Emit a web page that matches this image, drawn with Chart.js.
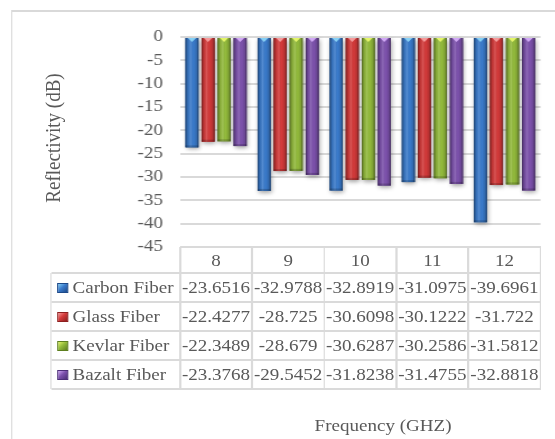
<!DOCTYPE html>
<html><head><meta charset="utf-8">
<script src="https://cdn.jsdelivr.net/npm/chart.js@4"></script>
<style>
html,body{margin:0;padding:0;background:#fff;overflow:hidden;width:555px;height:439px}
#wrap{position:absolute;left:0;top:0;width:496px;height:439px;transform:scaleX(1.12);transform-origin:0 0;font-family:"Liberation Serif","Times New Roman",serif;color:#595959;font-size:17px}
#frame{position:absolute;left:9.8px;top:10px;width:560px;height:470px;border-style:solid;border-color:#d9d9d9;border-width:2px 1.8px}
canvas{position:absolute;left:0;top:0}
.t{position:absolute;white-space:nowrap;line-height:1}
.hl{position:absolute;height:2px;background:#dadada}
.vl{position:absolute;width:1.8px;background:#dadada}
.cell{position:absolute;text-align:center;white-space:nowrap;line-height:1}
.sq{position:absolute;width:9.8px;height:10px;box-sizing:border-box}
</style></head>
<body>
<div id="wrap">
  <div id="frame"></div>
  <canvas id="c" width="496" height="439"></canvas>
  <div id="table"></div>
  <div class="t" id="ytitle" style="left:47.3px;top:138px;font-size:19px;transform:translate(-50%,-50%) rotate(-90deg)">Reflectivity (dB)</div>
  <div class="t" id="xtitle" style="left:342px;top:425px;transform:translate(-50%,-50%)">Frequency (GHZ)</div>
</div>
<script>
const categories = ['8', '9', '10', '11', '12'];
const seriesNames = ['Carbon Fiber', 'Glass Fiber', 'Kevlar Fiber', 'Bazalt Fiber'];
const carbon = [-23.6516, -32.9788, -32.8919, -31.0975, -39.6961];
const glass  = [-22.4277, -28.725, -30.6098, -30.1222, -31.722];
const kevlar = [-22.3489, -28.679, -30.6287, -30.2586, -31.5812];
const bazalt = [-23.3768, -29.5452, -31.8238, -31.4755, -32.8818];
const yTicks = [0, -5, -10, -15, -20, -25, -30, -35, -40, -45];

const baseColors = ['#3a7bcc', '#d43a3a', '#93bb3c', '#7d52ad'];
const darkColors = ['#1d4a8a', '#8e1f1f', '#5d7f1f', '#4c2f78'];
const toothColors = ['#86d0f5', '#f59a9a', '#e4f56a', '#d0a8f5'];
const seriesValues = [carbon, glass, kevlar, bazalt];

const cyl = {
  id: 'cyl',
  beforeDatasetsDraw(chart) {
    const ctx = chart.ctx;
    ctx.save();
    ctx.shadowColor = 'rgba(0,0,0,0.35)';
    ctx.shadowBlur = 4;
    ctx.shadowOffsetX = 1;
    ctx.shadowOffsetY = 2;
    chart.data.datasets.forEach((ds, di) => {
      chart.getDatasetMeta(di).data.forEach(el => {
        const w = el.width, l = el.x - w / 2, t = Math.min(el.y, el.base), h = Math.abs(el.base - el.y);
        ctx.fillStyle = darkColors[di];
        ctx.fillRect(l, t, w, h);
      });
    });
    ctx.restore();
  },
  afterDatasetsDraw(chart) {
    const ctx = chart.ctx;
    ctx.save();
    chart.data.datasets.forEach((ds, di) => {
      chart.getDatasetMeta(di).data.forEach(el => {
        const w = el.width, l = el.x - w / 2, t = Math.min(el.y, el.base), h = Math.abs(el.base - el.y);
        const g = ctx.createLinearGradient(l, 0, l + w, 0);
        g.addColorStop(0, 'rgba(0,0,0,0.45)');
        g.addColorStop(0.18, 'rgba(0,0,0,0.1)');
        g.addColorStop(0.4, 'rgba(255,255,255,0.14)');
        g.addColorStop(0.62, 'rgba(0,0,0,0)');
        g.addColorStop(0.86, 'rgba(0,0,0,0.15)');
        g.addColorStop(1, 'rgba(0,0,0,0.5)');
        ctx.fillStyle = g;
        ctx.fillRect(l, t, w, h);
        ctx.fillStyle = 'rgba(0,0,0,0.18)';
        ctx.fillRect(l, t + h - 2, w, 2);
        ctx.fillStyle = toothColors[di];
        ctx.beginPath();
        ctx.moveTo(el.x - w * 0.32, t);
        ctx.lineTo(el.x + w * 0.32, t);
        ctx.lineTo(el.x, t + 4);
        ctx.closePath();
        ctx.fill();
      });
    });
    ctx.restore();
  }
};

const chart = new Chart(document.getElementById('c'), {
  type: 'bar',
  data: {
    labels: categories,
    datasets: seriesNames.map((n, i) => ({
      label: n,
      data: seriesValues[i],
      backgroundColor: baseColors[i],
      borderWidth: 0,
      categoryPercentage: 0.89,
      barPercentage: 0.81
    }))
  },
  options: {
    responsive: false,
    animation: false,
    devicePixelRatio: 1,
    layout: { padding: { left: 0, top: 37, right: 13.4, bottom: 192 } },
    plugins: { legend: { display: false }, tooltip: { enabled: false } },
    scales: {
      x: { display: false },
      y: {
        min: -45, max: 0,
        afterBuildTicks: s => { s.ticks = yTicks.map(v => ({ value: v })); },
        afterFit: s => { s.width = 160.7; },
        border: { display: false },
        grid: { color: '#d9d9d9', lineWidth: 2, drawTicks: false },
        ticks: {
          autoSkip: false,
          padding: 15.2,
          color: '#595959',
          font: { family: '"Liberation Serif", "Times New Roman", serif', size: 17, lineHeight: 1 }
        }
      }
    }
  },
  plugins: [cyl]
});

(function buildTable() {
  const area = chart.chartArea;
  const tbl = document.getElementById('table');
  const n = categories.length;
  const cw = (area.right - area.left) / n;
  const legendLeft = 45.5;
  const headTop = area.bottom;
  const headBot = headTop + 26;
  const rowH = 29;
  const rows = seriesNames.map((_, i) => headBot + i * rowH);
  const tableBot = headBot + seriesNames.length * rowH;
  const add = (cls, style, text) => {
    const d = document.createElement('div');
    d.className = cls;
    Object.assign(d.style, style);
    if (text !== undefined) d.textContent = text;
    tbl.appendChild(d);
    return d;
  };
  add('hl', { left: area.left + 'px', top: (headTop - 1) + 'px', width: (area.right - area.left) + 'px' });
  [headBot, ...rows.map(r => r + rowH)].forEach(y => {
    add('hl', { left: legendLeft + 'px', top: (y - 1) + 'px', width: (area.right - legendLeft) + 'px' });
  });
  add('vl', { left: (legendLeft - 0.9) + 'px', top: headBot + 'px', height: (tableBot - headBot) + 'px' });
  for (let k = 0; k <= n; k++) {
    add('vl', { left: (area.left + k * cw - 0.9) + 'px', top: headTop + 'px', height: (tableBot - headTop) + 'px' });
  }
  categories.forEach((c, k) => {
    const cx = chart.scales.x.getPixelForValue(k);
    add('cell', { left: (cx - cw / 2) + 'px', width: cw + 'px', top: ((headTop + headBot) / 2 - 8) + 'px', height: '17px' }, c);
  });
  seriesNames.forEach((name, i) => {
    const top = rows[i];
    const mid = top + rowH / 2;
    add('sq', { left: '51.3px', top: (mid - 5) + 'px', background: 'linear-gradient(135deg,' + toothColors[i] + ' 0%,' + baseColors[i] + ' 45%,' + darkColors[i] + ' 100%)', border: '1px solid ' + darkColors[i] });
    add('t', { left: '64.8px', top: (mid - 8.5) + 'px', height: '17px' }, name);
    seriesValues[i].forEach((v, k) => {
      const cx = chart.scales.x.getPixelForValue(k);
      add('cell', { left: (cx - cw / 2) + 'px', width: cw + 'px', top: (mid - 8.5) + 'px', height: '17px' }, String(v));
    });
  });
})();
</script>
</body></html>
